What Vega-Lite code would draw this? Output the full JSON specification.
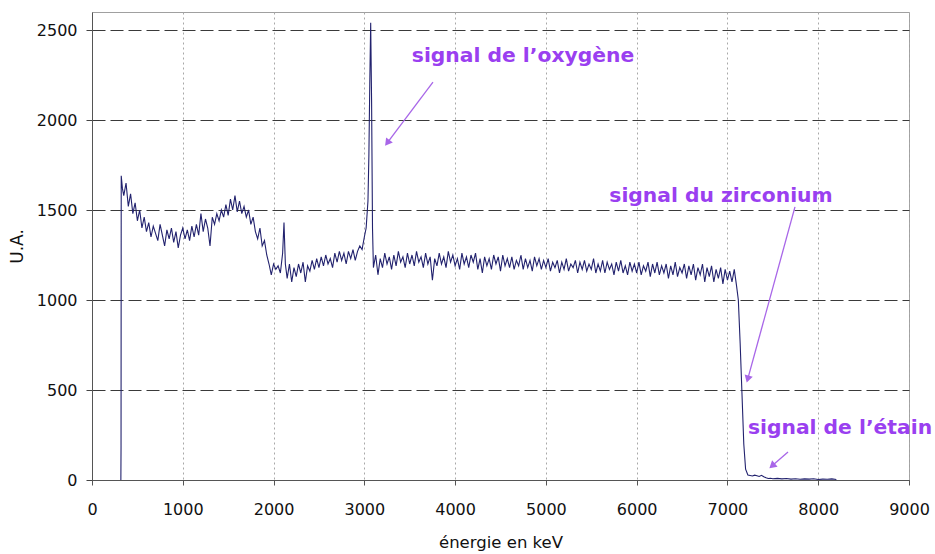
{
  "$schema": "https://vega.github.io/schema/vega-lite/v6.json",
  "width": 817,
  "height": 468,
  "autosize": {"type": "none"},
  "padding": {"left": 92, "top": 12, "right": 26, "bottom": 74},
  "background": "white",
  "config": {
    "view": {"stroke": "#a0a0a0", "strokeWidth": 1},
    "axis": {"labelColor": "#111", "titleColor": "#111", "titleFontWeight": "normal", "labelFont": "DejaVu Sans", "titleFont": "DejaVu Sans"}
  },
  "datasets": {
    "spectrum": [
      {"e":318,"c":0},{"e":320,"c":190},{"e":322,"c":1690},{"e":335,"c":1620},{"e":350,"c":1580},{"e":375,"c":1650},{"e":400,"c":1520},{"e":425,"c":1590},{"e":450,"c":1480},{"e":475,"c":1540},
      {"e":500,"c":1440},{"e":525,"c":1500},{"e":550,"c":1400},{"e":575,"c":1460},{"e":600,"c":1380},{"e":625,"c":1430},{"e":650,"c":1350},{"e":675,"c":1410},{"e":700,"c":1370},{"e":725,"c":1330},
      {"e":750,"c":1420},{"e":775,"c":1360},{"e":800,"c":1300},{"e":825,"c":1390},{"e":850,"c":1340},{"e":875,"c":1400},{"e":900,"c":1320},{"e":925,"c":1380},{"e":950,"c":1290},{"e":975,"c":1360},
      {"e":1000,"c":1400},{"e":1025,"c":1340},{"e":1050,"c":1390},{"e":1075,"c":1330},{"e":1100,"c":1410},{"e":1125,"c":1350},{"e":1150,"c":1420},{"e":1175,"c":1360},{"e":1200,"c":1480},{"e":1225,"c":1380},
      {"e":1250,"c":1450},{"e":1275,"c":1400},{"e":1300,"c":1300},{"e":1325,"c":1460},{"e":1350,"c":1420},{"e":1375,"c":1480},{"e":1400,"c":1440},{"e":1425,"c":1500},{"e":1450,"c":1460},{"e":1475,"c":1530},
      {"e":1500,"c":1470},{"e":1525,"c":1560},{"e":1550,"c":1500},{"e":1575,"c":1580},{"e":1600,"c":1490},{"e":1625,"c":1550},{"e":1650,"c":1480},{"e":1675,"c":1520},{"e":1700,"c":1460},{"e":1725,"c":1500},
      {"e":1750,"c":1420},{"e":1775,"c":1460},{"e":1800,"c":1380},{"e":1825,"c":1340},{"e":1850,"c":1400},{"e":1875,"c":1300},{"e":1900,"c":1330},{"e":1925,"c":1250},{"e":1950,"c":1200},{"e":1975,"c":1140},
      {"e":2000,"c":1200},{"e":2025,"c":1170},{"e":2050,"c":1190},{"e":2075,"c":1150},{"e":2100,"c":1260},{"e":2115,"c":1430},{"e":2130,"c":1200},{"e":2150,"c":1120},{"e":2175,"c":1200},{"e":2200,"c":1100},
      {"e":2225,"c":1180},{"e":2250,"c":1130},{"e":2275,"c":1200},{"e":2300,"c":1150},{"e":2325,"c":1210},{"e":2350,"c":1100},{"e":2375,"c":1190},{"e":2400,"c":1160},{"e":2425,"c":1220},{"e":2450,"c":1170},
      {"e":2475,"c":1230},{"e":2500,"c":1180},{"e":2525,"c":1240},{"e":2550,"c":1190},{"e":2575,"c":1250},{"e":2600,"c":1200},{"e":2625,"c":1230},{"e":2650,"c":1180},{"e":2675,"c":1260},{"e":2700,"c":1210},
      {"e":2725,"c":1270},{"e":2750,"c":1220},{"e":2775,"c":1260},{"e":2800,"c":1200},{"e":2825,"c":1270},{"e":2850,"c":1230},{"e":2875,"c":1280},{"e":2900,"c":1220},{"e":2925,"c":1270},{"e":2950,"c":1300},
      {"e":2975,"c":1280},{"e":3000,"c":1350},{"e":3020,"c":1400},{"e":3040,"c":1550},{"e":3050,"c":1800},{"e":3060,"c":2200},{"e":3070,"c":2540},{"e":3080,"c":2100},{"e":3090,"c":1400},{"e":3100,"c":1180},
      {"e":3125,"c":1250},{"e":3150,"c":1140},{"e":3175,"c":1230},{"e":3200,"c":1180},{"e":3225,"c":1260},{"e":3250,"c":1200},{"e":3275,"c":1240},{"e":3300,"c":1170},{"e":3325,"c":1250},{"e":3350,"c":1190},
      {"e":3375,"c":1270},{"e":3400,"c":1210},{"e":3425,"c":1240},{"e":3450,"c":1180},{"e":3475,"c":1260},{"e":3500,"c":1200},{"e":3525,"c":1250},{"e":3550,"c":1190},{"e":3575,"c":1270},{"e":3600,"c":1210},
      {"e":3625,"c":1240},{"e":3650,"c":1180},{"e":3675,"c":1260},{"e":3700,"c":1200},{"e":3725,"c":1240},{"e":3750,"c":1110},{"e":3775,"c":1230},{"e":3800,"c":1190},{"e":3825,"c":1260},{"e":3850,"c":1200},
      {"e":3875,"c":1240},{"e":3900,"c":1180},{"e":3925,"c":1270},{"e":3950,"c":1210},{"e":3975,"c":1250},{"e":4000,"c":1190},{"e":4025,"c":1230},{"e":4050,"c":1170},{"e":4075,"c":1260},{"e":4100,"c":1200},
      {"e":4125,"c":1240},{"e":4150,"c":1180},{"e":4175,"c":1250},{"e":4200,"c":1210},{"e":4225,"c":1260},{"e":4250,"c":1170},{"e":4275,"c":1230},{"e":4300,"c":1150},{"e":4325,"c":1240},{"e":4350,"c":1190},
      {"e":4375,"c":1230},{"e":4400,"c":1170},{"e":4425,"c":1250},{"e":4450,"c":1200},{"e":4475,"c":1240},{"e":4500,"c":1160},{"e":4525,"c":1250},{"e":4550,"c":1190},{"e":4575,"c":1230},{"e":4600,"c":1180},
      {"e":4625,"c":1240},{"e":4650,"c":1170},{"e":4675,"c":1220},{"e":4700,"c":1190},{"e":4725,"c":1250},{"e":4750,"c":1170},{"e":4775,"c":1230},{"e":4800,"c":1180},{"e":4825,"c":1220},{"e":4850,"c":1160},
      {"e":4875,"c":1240},{"e":4900,"c":1190},{"e":4925,"c":1230},{"e":4950,"c":1170},{"e":4975,"c":1220},{"e":5000,"c":1180},{"e":5025,"c":1230},{"e":5050,"c":1160},{"e":5075,"c":1210},{"e":5100,"c":1180},
      {"e":5125,"c":1220},{"e":5150,"c":1150},{"e":5175,"c":1210},{"e":5200,"c":1170},{"e":5225,"c":1230},{"e":5250,"c":1160},{"e":5275,"c":1200},{"e":5300,"c":1180},{"e":5325,"c":1220},{"e":5350,"c":1150},
      {"e":5375,"c":1210},{"e":5400,"c":1170},{"e":5425,"c":1220},{"e":5450,"c":1160},{"e":5475,"c":1200},{"e":5500,"c":1170},{"e":5525,"c":1230},{"e":5550,"c":1150},{"e":5575,"c":1200},{"e":5600,"c":1160},
      {"e":5625,"c":1220},{"e":5650,"c":1150},{"e":5675,"c":1210},{"e":5700,"c":1170},{"e":5725,"c":1200},{"e":5750,"c":1140},{"e":5775,"c":1210},{"e":5800,"c":1160},{"e":5825,"c":1220},{"e":5850,"c":1150},
      {"e":5875,"c":1190},{"e":5900,"c":1140},{"e":5925,"c":1210},{"e":5950,"c":1160},{"e":5975,"c":1200},{"e":6000,"c":1150},{"e":6025,"c":1210},{"e":6050,"c":1140},{"e":6075,"c":1190},{"e":6100,"c":1160},
      {"e":6125,"c":1210},{"e":6150,"c":1130},{"e":6175,"c":1200},{"e":6200,"c":1150},{"e":6225,"c":1210},{"e":6250,"c":1140},{"e":6275,"c":1190},{"e":6300,"c":1150},{"e":6325,"c":1200},{"e":6350,"c":1120},
      {"e":6375,"c":1190},{"e":6400,"c":1140},{"e":6425,"c":1210},{"e":6450,"c":1130},{"e":6475,"c":1180},{"e":6500,"c":1150},{"e":6525,"c":1200},{"e":6550,"c":1120},{"e":6575,"c":1190},{"e":6600,"c":1140},
      {"e":6625,"c":1200},{"e":6650,"c":1110},{"e":6675,"c":1180},{"e":6700,"c":1140},{"e":6725,"c":1200},{"e":6750,"c":1100},{"e":6775,"c":1180},{"e":6800,"c":1130},{"e":6825,"c":1190},{"e":6850,"c":1100},
      {"e":6875,"c":1170},{"e":6900,"c":1120},{"e":6925,"c":1180},{"e":6950,"c":1090},{"e":6975,"c":1170},{"e":7000,"c":1110},{"e":7025,"c":1160},{"e":7050,"c":1100},{"e":7075,"c":1170},{"e":7100,"c":1080},
      {"e":7120,"c":1000},{"e":7140,"c":760},{"e":7160,"c":480},{"e":7180,"c":200},{"e":7200,"c":60},{"e":7225,"c":28},{"e":7250,"c":25},{"e":7275,"c":22},{"e":7300,"c":27},{"e":7325,"c":24},
      {"e":7350,"c":20},{"e":7375,"c":26},{"e":7400,"c":18},{"e":7425,"c":12},{"e":7450,"c":8},{"e":7475,"c":10},{"e":7500,"c":7},{"e":7550,"c":9},{"e":7600,"c":6},{"e":7650,"c":8},
      {"e":7700,"c":5},{"e":7750,"c":7},{"e":7800,"c":4},{"e":7850,"c":6},{"e":7900,"c":5},{"e":7950,"c":7},{"e":8000,"c":3},{"e":8050,"c":5},{"e":8100,"c":4},{"e":8150,"c":6},{"e":8200,"c":3}
    ],
    "arrows": [
      {"x0": 3756, "y0": 2211, "x1": 3261, "y1": 1878, "dir": 217},
      {"x0": 7744, "y0": 1517, "x1": 7227, "y1": 567, "dir": 196},
      {"x0": 7667, "y0": 156, "x1": 7502, "y1": 83, "dir": 229}
    ],
    "notes": [
      {"x": 4748, "y": 2356, "label": "signal de l’oxygène"},
      {"x": 6929, "y": 1578, "label": "signal du zirconium"},
      {"x": 8240, "y": 289, "label": "signal de l’étain"}
    ]
  },
  "layer": [
    {
      "data": {"name": "spectrum"},
      "mark": {"type": "line", "color": "#22226e", "strokeWidth": 1.1},
      "encoding": {
        "x": {
          "field": "e", "type": "quantitative",
          "scale": {"domain": [0, 9000], "nice": false, "zero": false},
          "axis": {
            "title": "énergie en keV", "titleFontSize": 16.5, "titlePadding": 17,
            "values": [0, 1000, 2000, 3000, 4000, 5000, 6000, 7000, 8000, 9000], "format": "d",
            "labelFontSize": 16, "labelPadding": 16, "labelFlush": false,
            "tickSize": 5, "tickColor": "#555", "domainColor": "#555",
            "grid": true, "gridColor": "#a8a8a8", "gridDash": [2, 3], "gridWidth": 1
          }
        },
        "y": {
          "field": "c", "type": "quantitative",
          "scale": {"domain": [0, 2600], "nice": false},
          "axis": {
            "title": "U.A.", "titleFontSize": 17, "titlePadding": 10,
            "values": [0, 500, 1000, 1500, 2000, 2500], "format": "d",
            "labelFontSize": 16, "labelPadding": 9,
            "tickSize": 6, "tickColor": "#444", "domainColor": "#555",
            "grid": true, "gridColor": "#3a3a3a", "gridDash": [13, 5], "gridWidth": 1
          }
        }
      }
    },
    {
      "data": {"name": "arrows"},
      "mark": {"type": "rule", "color": "#a866e8", "strokeWidth": 1.3},
      "encoding": {
        "x": {"field": "x0", "type": "quantitative"},
        "y": {"field": "y0", "type": "quantitative"},
        "x2": {"field": "x1"},
        "y2": {"field": "y1"}
      }
    },
    {
      "data": {"name": "arrows"},
      "mark": {"type": "point", "shape": "triangle", "filled": true, "color": "#a866e8", "size": 70, "opacity": 1},
      "encoding": {
        "x": {"field": "x1", "type": "quantitative"},
        "y": {"field": "y1", "type": "quantitative"},
        "angle": {"field": "dir", "type": "quantitative", "scale": null}
      }
    },
    {
      "data": {"name": "notes"},
      "mark": {"type": "text", "font": "DejaVu Sans", "fontWeight": "bold", "fontSize": 20.3, "color": "#9a3ff0", "clip": false},
      "encoding": {
        "x": {"field": "x", "type": "quantitative"},
        "y": {"field": "y", "type": "quantitative"},
        "text": {"field": "label"}
      }
    }
  ]
}
